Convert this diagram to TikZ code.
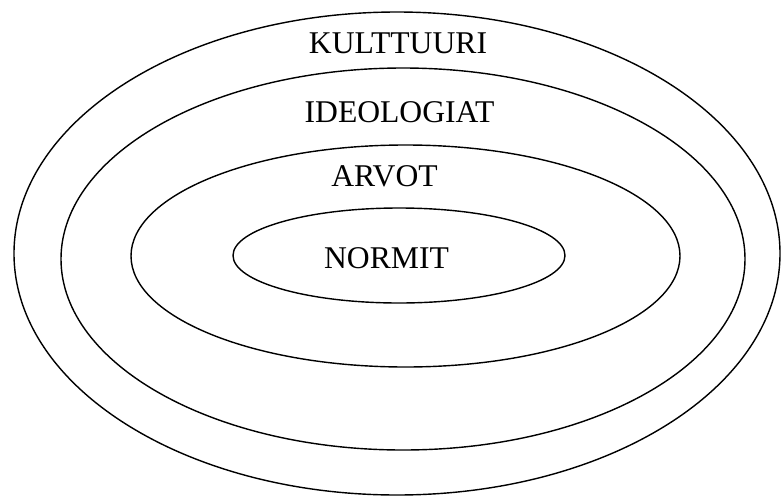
\documentclass[tikz,border=0pt]{standalone}
\usepackage{fontspec}
\setmainfont{Liberation Serif}
\usepackage{tikz}
\usetikzlibrary{positioning}

\begin{document}
\begin{tikzpicture}[
    x=0.03cm, y=-0.03cm,
    ring/.style={draw, line width=1.2pt},
    label/.style={font=\fontsize{27}{32}\selectfont, inner sep=0pt, anchor=base},
]
\useasboundingbox (0,0) rectangle (781,497);

% Nested rings
\draw[ring] (397,253.5) ellipse [x radius=383, y radius=241.5];
\draw[ring] (403,259) ellipse [x radius=342, y radius=191];
\draw[ring] (405.5,256) ellipse [x radius=274.5, y radius=111];
\draw[ring] (399,255.5) ellipse [x radius=166, y radius=47.5];

% Labels
\node[label] (kulttuuri) at (398,53) {KULTTUURI};
\node[label] (ideologiat) at (399.5,122) {IDEOLOGIAT};
\node[label] (arvot) at (384.5,186) {ARVOT};
\node[label] (normit) at (386.5,268) {NORMIT};

\end{tikzpicture}
\end{document}
